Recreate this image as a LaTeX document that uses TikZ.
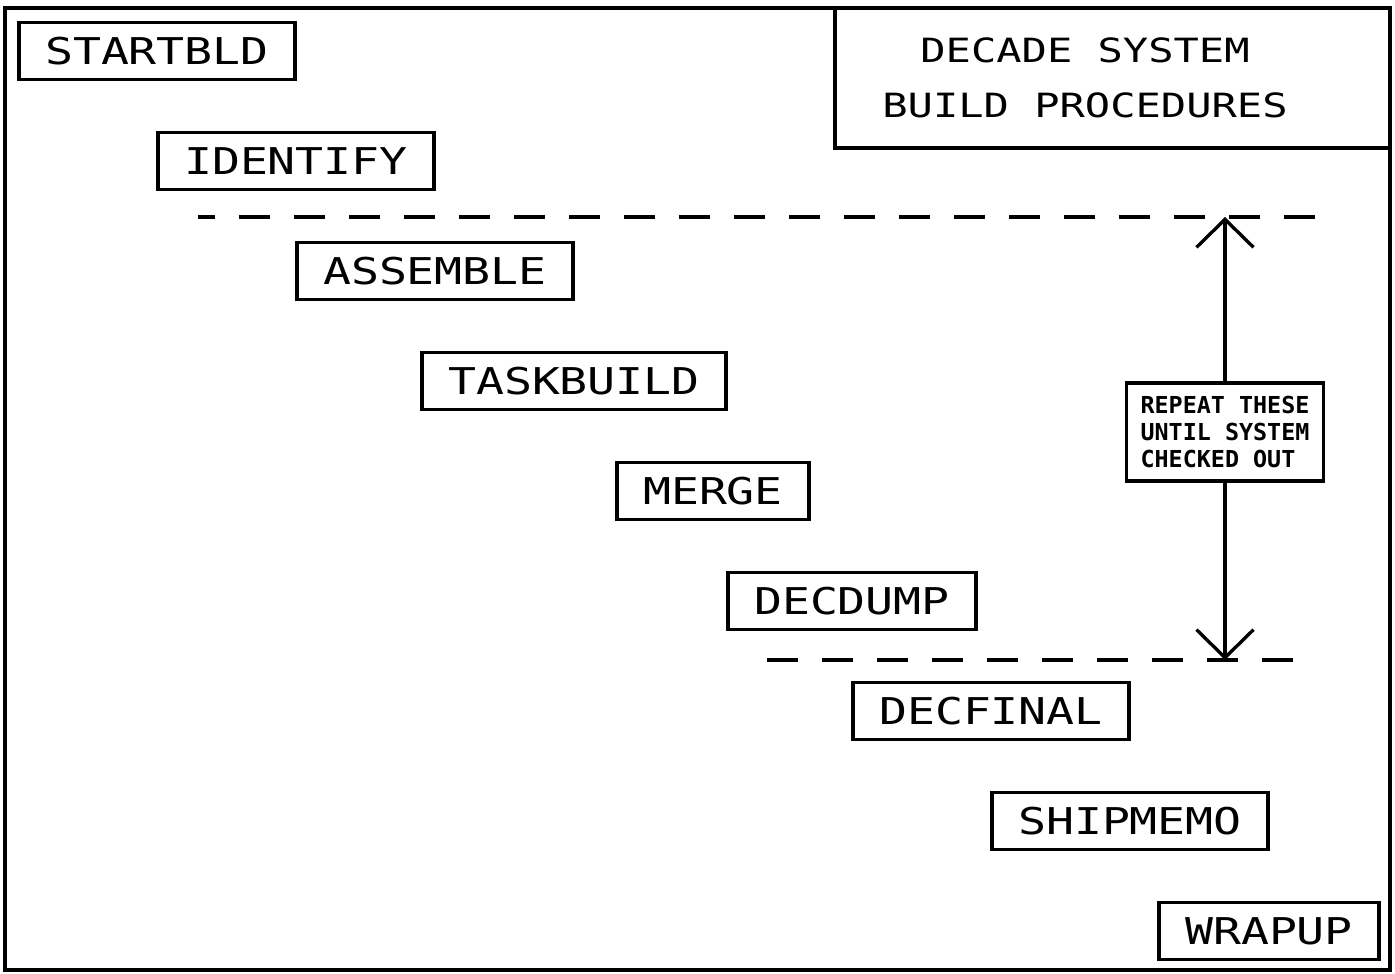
\documentclass[tikz,border=0pt]{standalone}
\usepackage{fontspec}
\newfontfamily\boxfont[FakeStretch=1.26]{DejaVu Sans Mono}
\newfontfamily\notefont{DejaVu Sans Mono}
\usepackage{tikz}
\usetikzlibrary{arrows.meta}

\begin{document}
\begin{tikzpicture}[>={Straight Barb[length=0.56cm, width=1.14cm]}, line width=1.9pt,
    proc/.style={draw, line width=1.8pt, minimum height=1.14cm, inner xsep=0.52cm,
        font=\boxfont\fontsize{21}{24}\selectfont},
    cut/.style={dash pattern=on 0.62cm off 0.48cm, line width=1.9pt}]
    \useasboundingbox (0,0) rectangle (27.9,19.48);
    % frame and title
    \draw[line width=2.2pt] (0.1,0.08) rectangle (27.8,19.32);
    \draw[line width=1.9pt] (16.7,19.32) |- (27.8,16.52);
    \node[align=center, font=\boxfont\fontsize{19}{31}\selectfont] (title) at (21.7,17.92)
        {DECADE SYSTEM\\BUILD PROCEDURES};
    % the procedures, one step down and right each
    \foreach \name/\txt [count=\k from 0] in {startbld/STARTBLD, identify/IDENTIFY,
        assemble/ASSEMBLE, taskbuild/TASKBUILD, merge/MERGE, decdump/DECDUMP,
        decfinal/DECFINAL, shipmemo/SHIPMEMO, wrapup/WRAPUP}
        \node[proc] (\name) at ({3.14+2.78*\k}, {18.46-2.2*\k}) {\txt};
    % repeat loop
    \coordinate (reptop) at (24.5,15.14);
    \coordinate (repbot) at (24.5,6.28);
    \draw[cut, dash phase=0.28cm] (3.96,15.14) -- (26.5,15.14);
    \draw[cut] (15.34,6.28) -- (25.96,6.28);
    \node[draw, fill=white, line width=1.8pt, minimum width=3.94cm, minimum height=1.96cm,
        align=left, font=\notefont\bfseries\fontsize{13.3}{15.4}\selectfont] (note)
        at (24.5,10.84) {REPEAT THESE\\UNTIL SYSTEM\\CHECKED OUT};
    \draw[->] (note) -- (reptop);
    \draw[->] (note) -- (repbot);
\end{tikzpicture}
\end{document}
